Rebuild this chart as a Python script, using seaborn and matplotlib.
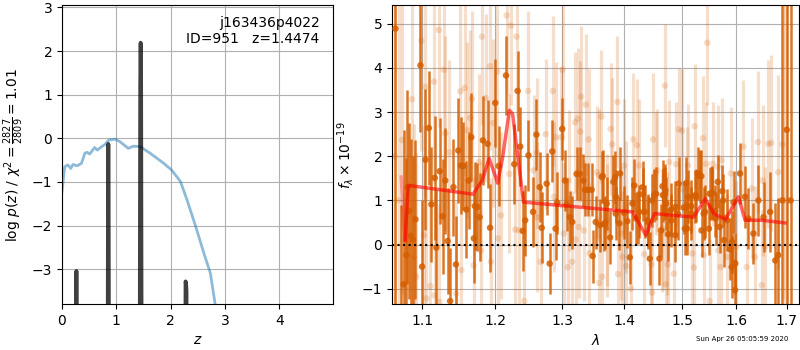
import numpy as np
import pandas as pd
import matplotlib
matplotlib.use("Agg")
import matplotlib.pyplot as plt
import seaborn as sns
from matplotlib.ticker import NullLocator, FixedLocator, FixedFormatter

# ===================== data: left panel =====================
# chi2-derived curve (blue)
z_chi2 = [0.0, 0.05, 0.11, 0.16, 0.20, 0.28, 0.36, 0.42, 0.46, 0.51, 0.60, 0.65, 0.73,
          0.79, 0.86, 0.98, 1.07, 1.22, 1.31, 1.44, 1.62, 1.87, 2.02, 2.18, 2.30, 2.46,
          2.61, 2.73, 2.83]
logp_chi2 = [-1.22, -0.65, -0.61, -0.69, -0.60, -0.63, -0.57, -0.34, -0.32, -0.36, -0.21,
             -0.27, -0.19, -0.14, -0.04, -0.02, -0.08, -0.23, -0.18, -0.19, -0.34, -0.57,
             -0.73, -0.99, -1.41, -2.02, -2.63, -3.09, -3.9]

# log p(z) spikes (black)
z_pdf = [0.250, 0.262, 0.265, 0.268, 0.280,
         0.835, 0.848, 0.852, 0.856, 0.870,
         1.425, 1.440, 1.4474, 1.455, 1.470,
         2.262, 2.274, 2.282, 2.290, 2.302]
logp_pdf = [-9.0, -3.3, -3.04, -3.3, -9.0,
            -9.0, -0.6, -0.13, -0.6, -9.0,
            -9.0, 1.2, 2.19, 1.2, -9.0,
            -9.0, -3.28, -3.32, -3.5, -9.0]

# ===================== data: right panel =====================
dark_wave = [1.0651, 1.0716, 1.0755, 1.0790, 1.0805, 1.0826, 1.0850, 1.0874, 1.0908, 1.0974,
             1.0995, 1.1040, 1.1084, 1.1119, 1.1163, 1.1184, 1.1229, 1.1269, 1.1304, 1.1336,
             1.1370, 1.1415, 1.1450, 1.1482, 1.1517, 1.1549, 1.1593, 1.1624, 1.1661, 1.1697,
             1.1712, 1.1747, 1.1778, 1.1824, 1.1890, 1.1926, 1.2000, 1.2049, 1.2155, 1.2276,
             1.2325, 1.2364, 1.2399, 1.2437, 1.2486, 1.2555, 1.2605, 1.2655, 1.2685, 1.2760,
             1.2806, 1.2847, 1.2897, 1.2923, 1.3000, 1.3042, 1.3067, 1.3120, 1.3156, 1.3225,
             1.3278, 1.3331, 1.3358, 1.3411, 1.3465, 1.3481, 1.3530, 1.3601, 1.3644, 1.3683,
             1.3709, 1.3765, 1.3820, 1.3858, 1.3931, 1.3995, 1.4052, 1.4093, 1.4137, 1.4196,
             1.4254, 1.4312, 1.4345, 1.4403, 1.4433, 1.4470, 1.4543, 1.4601, 1.4660, 1.4706,
             1.4720, 1.4753, 1.4812, 1.4883, 1.4926, 1.5051, 1.5075, 1.5111, 1.5171, 1.5245,
             1.5290, 1.5318, 1.5354, 1.5417, 1.5491, 1.5502, 1.5553, 1.5615, 1.5655, 1.5690,
             1.5741, 1.5755, 1.5774, 1.5918, 1.5981, 1.6077, 1.6174, 1.6239, 1.6337, 1.6435,
             1.6535, 1.6667, 1.6769, 1.6828, 1.6910, 1.7000, 1.7080,
             1.3630, 1.3667, 1.3847, 1.3862, 1.3920, 1.4168, 1.4226, 1.4310, 1.4395, 1.4510,
             1.4629, 1.4655, 1.4701, 1.4808, 1.4880, 1.4941, 1.5031, 1.5090, 1.5168, 1.5241,
             1.5351, 1.5395, 1.5547, 1.5609, 1.5829, 1.5892, 1.5924, 1.5955, 1.5986]
dark_flux = [4.89, -1.5, -0.9, -0.24, 1.3, 0.76, 0.2, 0.10, 0.57, 4.06,
             -0.5, 1.92, 2.64, 0.91, 1.51, -0.07, 1.66, 0.64, 1.45, 0.08,
             -1.28, 1.30, -0.45, 2.13, 1.79, 1.78, 0.79, 1.45, 2.43, 0.14,
             0.87, 0.85, 0.62, 2.36, 2.28, 0.38, 3.21, 1.78, 3.83, 1.82,
             3.48, 2.22, 0.31, 0.55, 2.02, 0.74, 2.49, 1.30, 0.38, 1.38,
             -0.43, 2.11, 0.36, 0.95, 2.62, 1.45, 0.91, 0.62, 0.51, 1.60,
             1.60, 1.45, 1.24, 1.24, 1.24, -0.26, 0.51, 0.44, 1.55, 0.49,
             0.93, 0.16, 1.42, 0.70, 1.61, 0.72, 0.53, -0.29, 0.93, 0.59,
             0.74, 1.30, 0.74, 0.51, -0.32, 1.00, 1.15, -0.32, 1.12, 1.23,
             0.93, 0.23, 0.55, 0.85, 0.70, 0.36, 1.39, 1.08, 0.70, 1.12,
             1.61, 1.55, 0.32, 0.74, 0.36, 1.15, 1.17, 0.59, 1.42, 0.40,
             1.21, 1.00, 0.10, -0.51, -1.03, 1.61, 1.08, 0.59, 0.25, 1.00,
             0.62, 0.74, -0.36, -0.24, 1.0, 2.60, 1.0,
             1.53, 0.46, 1.52, 1.08, 0.48, 1.34, 0.62, 1.14, 0.55, 1.12,
             0.32, 1.32, 1.15, 0.79, 0.21, 1.38, 0.84, 0.36, 0.87, 1.08,
             1.55, 0.70, 1.15, 0.76, 0.55, -0.11, 0.06, 0.96, -0.43]
dark_err = [12, 2.4, 3.5, 2.2, 2.2, 2.0, 2.2, 1.9, 1.8, 1.5,
            1.5, 1.6, 1.3, 1.3, 1.4, 1.3, 1.2, 1.3, 1.2, 1.2,
            1.2, 1.1, 1.1, 1.2, 1.1, 1.0, 1.1, 1.1, 1.0, 1.0,
            1.0, 1.0, 1.0, 1.0, 1.0, 1.0, 1.0, 0.9, 0.9, 0.9,
            0.9, 0.9, 0.9, 0.8, 0.8, 0.8, 0.8, 0.8, 0.8, 0.7,
            0.7, 0.7, 0.7, 0.7, 0.7, 0.7, 0.6, 0.6, 0.6, 0.6,
            0.6, 0.6, 0.6, 0.6, 0.6, 0.6, 0.6, 0.6, 0.6, 0.6,
            0.6, 0.6, 0.6, 0.6, 0.6, 0.6, 0.6, 0.6, 0.6, 0.6,
            0.6, 0.6, 0.6, 0.6, 0.6, 0.6, 0.6, 0.6, 0.6, 0.6,
            0.6, 0.6, 0.6, 0.6, 0.6, 0.6, 0.6, 0.6, 0.6, 0.6,
            0.6, 0.6, 0.6, 0.6, 0.6, 0.6, 0.6, 0.6, 0.6, 0.6,
            0.6, 0.6, 0.6, 0.7, 0.7, 0.7, 0.7, 0.7, 0.7, 0.8,
            0.8, 0.9, 1.3, 1.3, 12, 12, 12,
            0.6, 0.6, 0.6, 0.6, 0.6, 0.6, 0.6, 0.6, 0.6, 0.6,
            0.6, 0.6, 0.6, 0.6, 0.6, 0.6, 0.6, 0.6, 0.6, 0.6,
            0.6, 0.6, 0.6, 0.6, 0.7, 0.7, 0.7, 0.7, 0.7]

light_wave = [1.0640, 1.0690, 1.0736, 1.0865, 1.0887, 1.0917, 1.0987, 1.1018, 1.1040, 1.1053,
              1.1106, 1.1151, 1.1160, 1.1217, 1.1225, 1.1284, 1.1305, 1.1359, 1.1454, 1.1509,
              1.1523, 1.1569, 1.1604, 1.1647, 1.1670, 1.1694, 1.1770, 1.1796, 1.1810, 1.1866,
              1.1924, 1.1938, 1.1971, 1.2029, 1.2039, 1.2082, 1.2164, 1.2204, 1.2227, 1.2289,
              1.2309, 1.2346, 1.2424, 1.2480, 1.2562, 1.2609, 1.2618, 1.2669, 1.2744, 1.2854,
              1.2871, 1.2897, 1.2984, 1.3005, 1.3025, 1.3087, 1.3098, 1.3151, 1.3203, 1.3210,
              1.3245, 1.3257, 1.3284, 1.3297, 1.3337, 1.3371, 1.3416, 1.3430, 1.3580, 1.3591,
              1.3624, 1.3634, 1.3715, 1.3720, 1.3773, 1.3800, 1.3886, 1.3895, 1.3945, 1.3970,
              1.4024, 1.4112, 1.4154, 1.4212, 1.4461, 1.4475, 1.4490, 1.4560, 1.4648, 1.4696,
              1.4710, 1.4774, 1.4854, 1.4896, 1.4944, 1.5000, 1.5105, 1.5184, 1.5215, 1.5226,
              1.5380, 1.5392, 1.5440, 1.5460, 1.5502, 1.5560, 1.5655, 1.5708, 1.5727, 1.5904,
              1.6009, 1.6143, 1.6205, 1.6304, 1.6367, 1.6424, 1.6500, 1.6520, 1.6565, 1.6630,
              1.6687, 1.6828, 1.6917, 1.6960,
              1.4253, 1.4537, 1.3553, 1.4000, 1.4029, 1.4659, 1.4337, 1.4731, 1.4749, 1.5663,
              1.5829, 1.5090]
light_flux = [2.0, 1.0, 2.37, 3.29, -0.28, -0.73, 4.62, 0.21, 3.57, -1.22,
              -0.94, 3.69, -1.15, 4.86, -1.30, 3.96, 2.52, 2.09, -1.11, 3.47,
              -0.58, 3.55, 2.59, 2.87, 3.30, -0.47, 1.87, -0.14, 4.71, 3.32,
              4.04, -0.39, 2.75, 3.92, 0.14, 0.66, 5.19, 1.60, 4.96, 0.34,
              4.71, 0.32, -1.28, 3.48, 1.68, 2.08, 0.62, -0.39, 2.50, 3.48,
              1.08, 2.43, 2.43, 3.96, 0.25, -0.51, 1.45, -0.39, 2.77, 0.11,
              2.85, 0.40, 2.56, 3.35, 0.32, 3.17, 2.38, -0.20, 1.57, -0.87,
              2.90, -0.73, 0.32, 0.55, 2.62, 2.27, 3.23, -0.67, 0.25, -0.28,
              0.85, -1.00, 2.38, 2.25, -0.45, -1.09, 2.38, 1.68, 0.32, 3.60,
              -0.90, 1.87, -0.66, 1.82, 2.61, 2.58, 1.79, -0.20, -0.52, 2.68,
              2.41, -0.24, 1.83, 4.57, -1.28, 1.83, 1.76, -0.51, 1.91, 1.61,
              -0.05, 2.22, -0.51, 1.27, -0.28, 2.32, -0.92, 1.45, -0.05, 2.28,
              2.30, 1.64, 2.27, 1.0,
              1.79, 1.61, 1.64, 1.79, -0.49, 0.36, -0.22, 0.25, -0.45, -0.13,
              -0.28, 1.27]
light_err = [10, 10, 3.5, 3.0, 3.0, 2.8, 2.5, 2.5, 2.5, 2.5,
             2.4, 2.3, 2.3, 2.2, 2.2, 2.2, 2.2, 2.1, 2.1, 2.0,
             2.0, 2.0, 2.0, 2.0, 2.0, 2.0, 2.0, 2.0, 2.0, 1.9,
             1.9, 1.9, 1.9, 1.9, 1.9, 1.9, 1.8, 1.8, 1.8, 1.8,
             1.8, 1.8, 1.8, 1.8, 1.7, 1.7, 1.7, 1.7, 1.7, 1.7,
             1.7, 1.7, 1.6, 1.6, 1.6, 1.6, 1.6, 1.6, 1.6, 1.6,
             1.6, 1.6, 1.6, 1.6, 1.6, 1.6, 1.6, 1.6, 1.5, 1.5,
             1.5, 1.5, 1.5, 1.5, 1.5, 1.5, 1.5, 1.5, 1.5, 1.5,
             1.5, 1.5, 1.5, 1.5, 1.5, 1.5, 1.5, 1.4, 1.4, 1.4,
             1.4, 1.4, 1.4, 1.4, 1.4, 1.4, 1.4, 1.4, 1.4, 1.4,
             1.4, 1.4, 1.4, 1.4, 1.4, 1.4, 1.4, 1.4, 1.4, 1.5,
             1.5, 1.5, 1.5, 1.6, 1.6, 1.6, 1.7, 1.7, 1.8, 1.9,
             2.0, 2.2, 3.5, 10,
             1.5, 1.4, 1.5, 1.5, 1.5, 1.4, 1.5, 1.4, 1.4, 1.4,
             1.4, 1.4]

# best-fit model (red)
model_wave = [1.0774, 1.0815, 1.1685, 1.1813, 1.1913, 1.2035, 1.2107, 1.2203, 1.2251, 1.2412,
              1.4141, 1.4366, 1.4514, 1.5211, 1.5423, 1.5582, 1.5800, 1.6046, 1.6174, 1.6499,
              1.6966]
model_flux = [0.10, 1.34, 1.14, 1.45, 1.95, 1.39, 1.98, 3.04, 2.96, 0.96,
              0.74, 0.21, 0.70, 0.62, 1.04, 0.70, 0.57, 1.08, 0.55, 0.55,
              0.49]
edge_wave = [1.0724, 1.0774]
edge_flux = [1.53, 0.10]

# ===================== plot =====================
G141_COLOR = sns.color_palette("colorblind")[3]

fig = plt.figure(figsize=(8, 3.5), dpi=100)
ax1 = fig.add_axes([0.0775, 0.131, 0.339, 0.854])
ax2 = fig.add_axes([0.49, 0.131, 0.509, 0.854])

# left: redshift PDF
sns.lineplot(x=z_chi2, y=logp_chi2, ax=ax1, color="C0", alpha=0.5, lw=2,
             sort=False, estimator=None)
sns.lineplot(x=z_pdf, y=logp_pdf, ax=ax1, color="k", alpha=0.75, lw=2.8,
             sort=False, estimator=None)
ax1.set_xlim(0, 4.99)
ax1.set_ylim(-3.8, 3.05)
ax1.set_xticks([0, 1, 2, 3, 4])
ax1.set_yticks([-3, -2, -1, 0, 1, 2, 3])
ax1.grid(True)
ax1.set_xlabel(r"$z$")
ax1.set_ylabel(r"$\log\,p(z)$" + " / " + r"$\chi^2=\frac{2827}{2809}=1.01$")
ax1.text(0.95, 0.965, "j163436p4022\nID=951   z=1.4474", ha="right", va="top",
         transform=ax1.transAxes)

# right: spectrum
ax2.set_xscale("log")
ax2.errorbar(light_wave, light_flux, yerr=light_err, fmt="none", ecolor=G141_COLOR,
             alpha=0.2, elinewidth=2.3, capsize=0)
sns.scatterplot(x=light_wave, y=light_flux, ax=ax2, color=G141_COLOR, alpha=0.2,
                s=22, edgecolor="none", zorder=2)
ax2.errorbar(dark_wave, dark_flux, yerr=dark_err, fmt="none", ecolor=G141_COLOR,
             alpha=0.85, elinewidth=1.8, capsize=0)
sns.scatterplot(x=dark_wave, y=dark_flux, ax=ax2, color=G141_COLOR, alpha=0.85,
                s=22, edgecolor="none", zorder=3)
sns.lineplot(x=edge_wave, y=edge_flux, ax=ax2, color="r", alpha=0.3, lw=2.5,
             sort=False, estimator=None, zorder=4)
sns.lineplot(x=model_wave, y=model_flux, ax=ax2, color="r", alpha=0.6, lw=2.5,
             sort=False, estimator=None, zorder=4)
ax2.axhline(0, color="k", linestyle=":", lw=1.5, zorder=5)

ax2.set_xlim(1.0607, 1.7255)
ax2.set_ylim(-1.35, 5.42)
ticks = [1.1, 1.2, 1.3, 1.4, 1.5, 1.6, 1.7]
ax2.xaxis.set_major_locator(FixedLocator(ticks))
ax2.xaxis.set_major_formatter(FixedFormatter([f"{t:.1f}" for t in ticks]))
ax2.xaxis.set_minor_locator(NullLocator())
ax2.set_yticks([-1, 0, 1, 2, 3, 4, 5])
ax2.grid(True)
ax2.set_xlabel(r"$\lambda$")
ax2.set_ylabel(r"$f_\lambda\times10^{-19}$")

fig.text(0.985, 0.022, "Sun Apr 26 05:05:59 2020", ha="right", va="bottom", fontsize=5)

fig.savefig("out.png", dpi=100)
plt.close(fig)
